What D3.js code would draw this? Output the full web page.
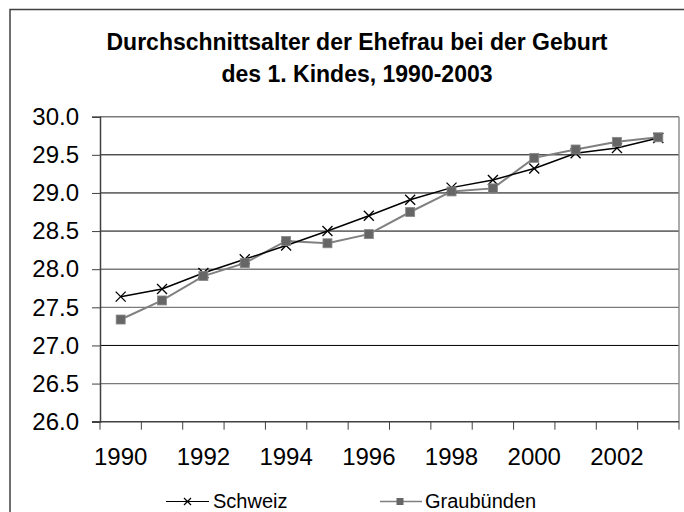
<!DOCTYPE html>
<html>
<head>
<meta charset="utf-8">
<script src="https://cdn.jsdelivr.net/npm/d3@7/dist/d3.min.js"></script>
<style>
    body { margin: 0; background: #fff; }
    svg text { font-family: "Liberation Sans", Arial, sans-serif; fill: #000; }
</style>
</head>
<body>
<div id="plot"></div>
<script>
// Chart data.
var years = [1990, 1991, 1992, 1993, 1994, 1995, 1996, 1997, 1998, 1999, 2000, 2001, 2002, 2003];
var schweiz = [27.64, 27.74, 27.95, 28.13, 28.31, 28.50, 28.70, 28.91, 29.07, 29.17, 29.32, 29.52, 29.59, 29.72];
var graubuenden = [27.34, 27.59, 27.91, 28.08, 28.37, 28.34, 28.46, 28.75, 29.02, 29.06, 29.46, 29.57, 29.67, 29.73];
var y_ticks = [26.0, 26.5, 27.0, 27.5, 28.0, 28.5, 29.0, 29.5, 30.0];
var x_labels = [1990, 1992, 1994, 1996, 1998, 2000, 2002];
var title_lines = ["Durchschnittsalter der Ehefrau bei der Geburt", "des 1. Kindes, 1990-2003"];
var legend_names = ["Schweiz", "Graubünden"];

// Canvas dimensions and plot area.
var width = 684, height = 512;
var plot = {left: 100, right: 679, top: 116.7, bottom: 421.7};

var svg = d3.select("div#plot").append("svg")
    .attr("width", width)
    .attr("height", height);

// Outer chart frame (runs off the right and bottom edges like the picture).
svg.append("rect")
    .attr("x", 10).attr("y", 9.5)
    .attr("width", 700).attr("height", 530)
    .style("fill", "none")
    .style("stroke", "#404040")
    .style("stroke-width", 1.5);

// Scales: category axis with points in the middle of each band.
var x_scale = d3.scaleBand()
    .domain(years)
    .range([plot.left, plot.right]);

var y_scale = d3.scaleLinear()
    .domain([26, 30])
    .range([plot.bottom, plot.top]);

var x_mid = d => x_scale(d) + x_scale.bandwidth() / 2;

// Title, two centered bold lines.
svg.append("g").attr("id", "title")
    .selectAll("text")
    .data(title_lines)
    .join("text")
        .attr("x", 357)
        .attr("y", (d, i) => 50 + i * 31.7)
        .attr("text-anchor", "middle")
        .style("font-size", "23px")
        .style("font-weight", "bold")
        .text(d => d);

// Horizontal grid lines. Some of them look softer grey in the picture.
var soft_grid = [26.5, 27.5, 28.0, 30.0];

svg.append("g").attr("id", "grid")
    .selectAll("line")
    .data(y_ticks.slice(1))
    .join("line")
        .attr("x1", plot.left).attr("x2", plot.right)
        .attr("y1", d => y_scale(d)).attr("y2", d => y_scale(d))
        .style("stroke", d => soft_grid.includes(d) ? "#7a7a7a" : "#000")
        .style("stroke-width", d => soft_grid.includes(d) ? 1.4 : 1);

// Right edge of the plot area.
svg.append("line")
    .attr("x1", plot.right).attr("x2", plot.right)
    .attr("y1", plot.top).attr("y2", plot.bottom)
    .style("stroke", "#888")
    .style("stroke-width", 1.4);

// Y axis.
var y_axis = svg.append("g")
    .attr("id", "y_axis")
    .attr("transform", "translate(" + plot.left + ", 0)")
    .call(d3.axisLeft(y_scale).tickValues(y_ticks).tickFormat(d3.format(".1f"))
        .tickSize(8).tickPadding(13));

y_axis.select(".domain").style("stroke", "#404040").style("stroke-width", 1.5);
y_axis.selectAll(".tick line").style("stroke", "#404040");
y_axis.selectAll(".tick text")
    .style("font-size", "24px")
    .attr("fill", "#000");

// X axis: tick marks on the band boundaries, labels on every second year.
var x_axis = svg.append("g")
    .attr("id", "x_axis")
    .attr("transform", "translate(0, " + plot.bottom + ")");

x_axis.append("line")
    .attr("x1", plot.left - 8).attr("x2", plot.right)
    .style("stroke", "#404040")
    .style("stroke-width", 1.5);

x_axis.selectAll("line.tick")
    .data(years.concat([null]))
    .join("line")
        .attr("class", "tick")
        .attr("x1", (d, i) => plot.left + i * x_scale.bandwidth())
        .attr("x2", (d, i) => plot.left + i * x_scale.bandwidth())
        .attr("y1", 0).attr("y2", 8)
        .style("stroke", "#404040");

x_axis.selectAll("text")
    .data(x_labels)
    .join("text")
        .attr("x", d => x_mid(d))
        .attr("y", 43.5)
        .attr("text-anchor", "middle")
        .style("font-size", "24px")
        .text(d => d);

// Series lines and markers.
var line = d3.line()
    .x(d => x_mid(d.year))
    .y(d => y_scale(d.value));

var sch_data = years.map((y, i) => ({year: y, value: schweiz[i]}));
var gr_data = years.map((y, i) => ({year: y, value: graubuenden[i]}));

var cross = (s) => "M" + (-s) + "," + (-s) + "L" + s + "," + s +
                   "M" + (-s) + "," + s + "L" + s + "," + (-s);

svg.append("path")
    .datum(gr_data)
    .attr("d", line)
    .style("fill", "none")
    .style("stroke", "#808080")
    .style("stroke-width", 2);

svg.append("path")
    .datum(sch_data)
    .attr("d", line)
    .style("fill", "none")
    .style("stroke", "#000")
    .style("stroke-width", 1.5);

svg.append("g").attr("id", "sch_marks")
    .selectAll("path")
    .data(sch_data)
    .join("path")
        .attr("transform", d => "translate(" + x_mid(d.year) + "," + y_scale(d.value) + ")")
        .attr("d", cross(5))
        .style("stroke", "#000")
        .style("stroke-width", 1.3);

svg.append("g").attr("id", "gr_marks")
    .selectAll("rect")
    .data(gr_data)
    .join("rect")
        .attr("x", d => x_mid(d.year) - 4.5)
        .attr("y", d => y_scale(d.value) - 4.5)
        .attr("width", 9).attr("height", 9)
        .style("fill", "#666")
        .style("stroke", "#888")
        .style("stroke-width", 0.8);

// Legend.
var legend = svg.append("g").attr("id", "legend");

legend.append("line")
    .attr("x1", 166).attr("x2", 209).attr("y1", 501.5).attr("y2", 501.5)
    .style("stroke", "#000").style("stroke-width", 1.2);
legend.append("path")
    .attr("transform", "translate(187.5, 501.5)")
    .attr("d", cross(3.5))
    .style("stroke", "#000").style("stroke-width", 1.2);
legend.append("text")
    .attr("x", 213).attr("y", 508)
    .style("font-size", "20px")
    .text(legend_names[0]);

legend.append("line")
    .attr("x1", 380).attr("x2", 422).attr("y1", 501.5).attr("y2", 501.5)
    .style("stroke", "#808080").style("stroke-width", 1.5);
legend.append("rect")
    .attr("x", 396.5).attr("y", 498)
    .attr("width", 7).attr("height", 7)
    .style("fill", "#666");
legend.append("text")
    .attr("x", 425).attr("y", 508)
    .style("font-size", "20px")
    .text(legend_names[1]);
</script>
</body>
</html>
